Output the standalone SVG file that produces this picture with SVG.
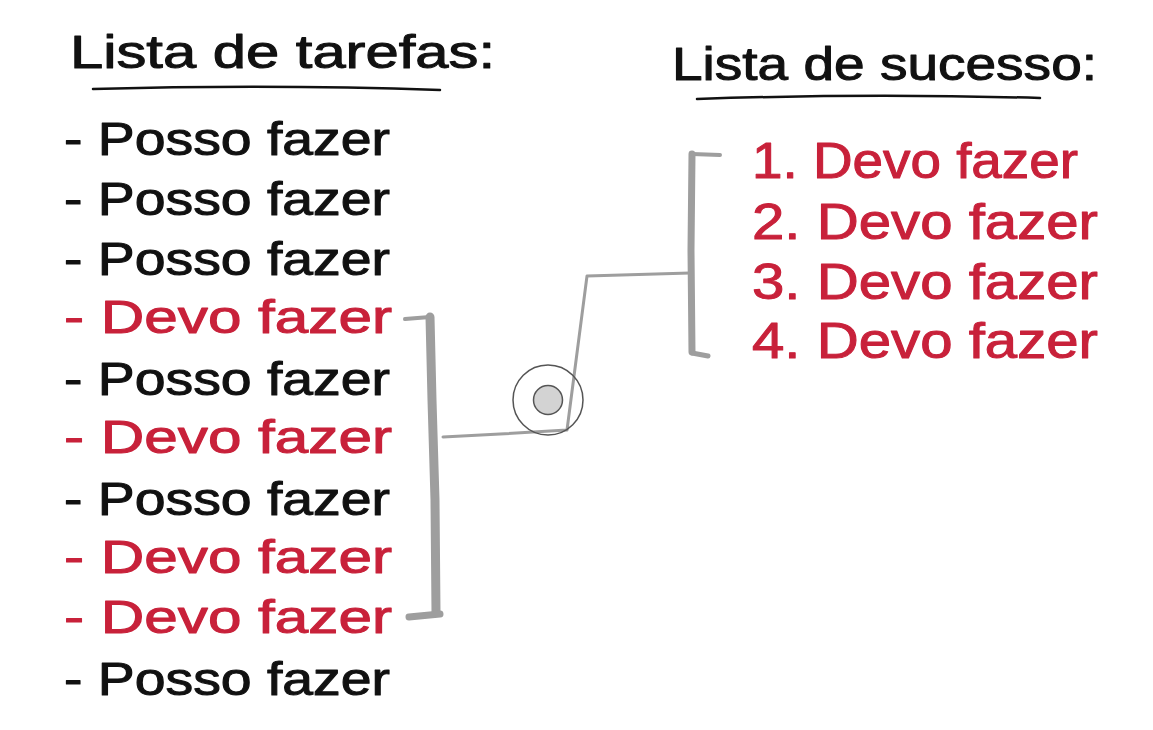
<svg xmlns="http://www.w3.org/2000/svg" width="1153" height="730" viewBox="0 0 1153 730">
<style>
text{font-family:"Liberation Sans",Arial,sans-serif;stroke-linejoin:round;}
.title{font-size:46px;fill:#111;stroke:#111;stroke-width:1;}
.item{font-size:46px;fill:#111;stroke:#111;stroke-width:1;}
.red{fill:#c8213a;stroke:#c8213a;}
.ritem{font-size:50px;fill:#c8213a;stroke:#c8213a;stroke-width:1;}
.br{fill:none;stroke:#9e9e9e;stroke-linecap:round;stroke-linejoin:round;}
.ul{fill:none;stroke:#111;stroke-width:2.5;stroke-linecap:round;}
</style>
<rect width="1153" height="730" fill="#ffffff"/>
<g id="title-left">
<text class="title" x="70" y="68" textLength="425" lengthAdjust="spacingAndGlyphs">Lista de tarefas:</text>
<path class="ul" d="M93 89 Q270 84 440 90"/>
</g>
<g id="title-right">
<text class="title" x="672" y="80" textLength="425" lengthAdjust="spacingAndGlyphs">Lista de sucesso:</text>
<path class="ul" d="M697 99 Q870 93 1040 98"/>
</g>
<g id="task-list">
<text class="item" x="64" y="155" textLength="326" lengthAdjust="spacingAndGlyphs">- Posso fazer</text>
<text class="item" x="64" y="215" textLength="326" lengthAdjust="spacingAndGlyphs">- Posso fazer</text>
<text class="item" x="64" y="275" textLength="326" lengthAdjust="spacingAndGlyphs">- Posso fazer</text>
<text class="item red" x="64" y="333" textLength="328" lengthAdjust="spacingAndGlyphs">- Devo fazer</text>
<text class="item" x="64" y="395" textLength="326" lengthAdjust="spacingAndGlyphs">- Posso fazer</text>
<text class="item red" x="64" y="453" textLength="328" lengthAdjust="spacingAndGlyphs">- Devo fazer</text>
<text class="item" x="64" y="515" textLength="326" lengthAdjust="spacingAndGlyphs">- Posso fazer</text>
<text class="item red" x="64" y="573" textLength="328" lengthAdjust="spacingAndGlyphs">- Devo fazer</text>
<text class="item red" x="64" y="633" textLength="328" lengthAdjust="spacingAndGlyphs">- Devo fazer</text>
<text class="item" x="64" y="695" textLength="326" lengthAdjust="spacingAndGlyphs">- Posso fazer</text>
</g>
<g id="success-list">
<text class="ritem" x="752" y="178" textLength="326" lengthAdjust="spacingAndGlyphs">1. Devo fazer</text>
<text class="ritem" x="752" y="239" textLength="346" lengthAdjust="spacingAndGlyphs">2. Devo fazer</text>
<text class="ritem" x="752" y="299" textLength="346" lengthAdjust="spacingAndGlyphs">3. Devo fazer</text>
<text class="ritem" x="752" y="358" textLength="346" lengthAdjust="spacingAndGlyphs">4. Devo fazer</text>
</g>
<g id="connectors">
<path class="br" stroke-width="4" d="M405 319 L430 317"/>
<path class="br" stroke-width="9" d="M430 317 L432 400 L435 500 L436 612"/>
<path class="br" stroke-width="7" d="M409 617 L440 614"/>
<path class="br" stroke-width="3" d="M443 437 L500 434 L567 430 L587 276 L690 273"/>
<path class="br" stroke-width="7" d="M692 154 L691 250 L692 352"/>
<path class="br" stroke-width="4" d="M692 154 L720 155"/>
<path class="br" stroke-width="5" d="M692 353 L708 356"/>
</g>
<g id="merge-node">
<circle cx="548" cy="400" r="35" fill="none" stroke="#555" stroke-width="1.5"/>
<circle cx="548" cy="400" r="14.5" fill="#d3d3d3" stroke="#555" stroke-width="1.5"/>
</g>
</svg>
